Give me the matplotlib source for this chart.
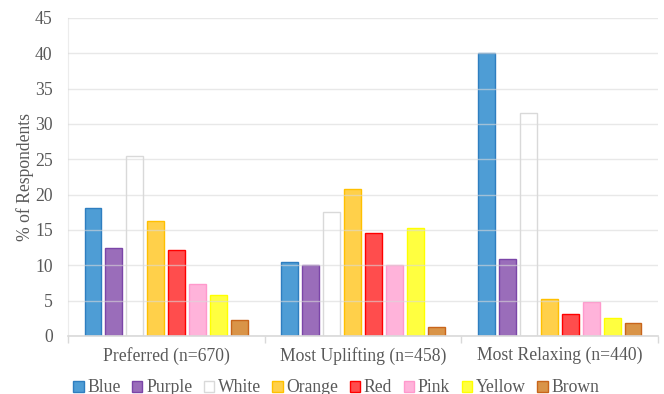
import numpy as np
import matplotlib.pyplot as plt
from matplotlib.patches import Patch

# survey results, % of respondents per colour
groups = ['Preferred (n=670)', 'Most Uplifting (n=458)', 'Most Relaxing (n=440)']
colours = ['Blue', 'Purple', 'White', 'Orange', 'Red', 'Pink', 'Yellow', 'Brown']
preferred = [18.1, 12.5, 25.5, 16.3, 12.2, 7.3, 5.8, 2.2]
uplifting = [10.5, 10.1, 17.5, 20.8, 14.6, 10.1, 15.3, 1.3]
relaxing = [40.0, 10.9, 31.5, 5.3, 3.1, 4.8, 2.5, 1.8]

fills = ['#4e9dd5', '#9a6dba', '#ffffff', '#ffd04a', '#ff4d4d', '#ffb3da', '#ffff40', '#d99448']
edges = ['#2e7ec0', '#7b45a8', '#d9d9d9', '#ffc000', '#ff0000', '#ff99cc', '#ffff00', '#c8651b']

plt.rcParams['font.family'] = ['Liberation Serif', 'DejaVu Serif']
grey = '#595959'
fs = 12.7

fig = plt.figure(figsize=(6.64, 3.94), dpi=100)
ax = fig.add_axes([68/664, 1-336/394, 590/664, 318/394])

data = np.array([preferred, uplifting, relaxing])
x = np.arange(len(groups))
step = 0.1066
width = 0.086
for i in range(len(colours)):
    ax.bar(x + (i - 3.5) * step, data[:, i], width, color=fills[i],
           edgecolor=edges[i], linewidth=1.0, zorder=2)

ax.set_xlim(-0.5, 2.5)
ax.set_ylim(0, 45)
ax.set_yticks(range(0, 46, 5))
ax.yaxis.grid(True, color='#d9d9d9', linewidth=1.0, zorder=3, alpha=0.6)
ax.set_axisbelow(False)

ax.set_xticks(x)
ax.set_xticklabels(groups)
ax.set_xticks([-0.5, 0.5, 1.5, 2.5], minor=True)
ax.tick_params(axis='x', which='major', length=0, pad=8, labelsize=fs, labelcolor=grey)
ax.tick_params(axis='x', which='minor', length=5, color='#d9d9d9', width=1)
ax.tick_params(axis='y', length=0, pad=11, labelsize=fs, labelcolor=grey)

for s in ['top', 'right']:
    ax.spines[s].set_visible(False)
ax.spines['bottom'].set_color('#d9d9d9')
ax.spines['bottom'].set_linewidth(1.2)
ax.spines['left'].set_color('#ececec')
ax.spines['bottom'].set_zorder(4)

ax.set_ylabel('% of Respondents', fontsize=fs, color=grey, labelpad=1)

handles = [Patch(facecolor=fills[i], edgecolor=edges[i], label=colours[i]) for i in range(len(colours))]
fig.legend(handles=handles, loc='center', bbox_to_anchor=(336/664, 1-388/394), ncol=8,
           frameon=False, fontsize=fs, labelcolor=grey, handlelength=0.6, handleheight=0.6,
           handletextpad=0.2, columnspacing=0.65)

fig.savefig('out.png', dpi=100)
